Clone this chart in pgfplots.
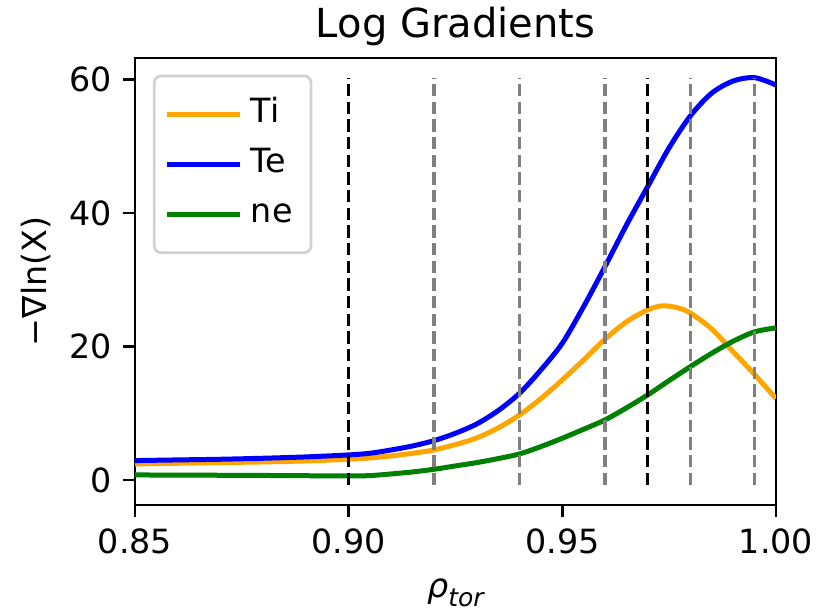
\documentclass[border=0pt]{standalone}
\usepackage{fontspec}
\setmainfont{DejaVu Sans}
\usepackage{pgfplots}
\pgfplotsset{compat=1.18}
\definecolor{mplorange}{HTML}{FFA500}
\definecolor{mplblue}{HTML}{0000FF}
\definecolor{mplgreen}{HTML}{008000}
\definecolor{mplgray}{HTML}{808080}
\begin{document}
\begin{tikzpicture}
\begin{axis}[
  name=ax,
  scale only axis,
  width=192.3pt, height=134.1pt,
  xmin=0.85, xmax=1.00,
  ymin=-3.75, ymax=63.25,
  xtick={0.85,0.90,0.95,1.00},
  ytick={0,20,40,60},
  xticklabel style={/pgf/number format/.cd,fixed,fixed zerofill,precision=2},
  scaled x ticks=false,
  /pgf/number format/assume math mode=true,
  tick align=outside,
  major tick length=3.5pt,
  tick style={line width=0.8pt, black},
  xtick pos=bottom, ytick pos=left,
  axis line style={line width=0.8pt},
  font=\fontsize{10}{12}\selectfont,
  ticklabel style={font=\fontsize{10}{12}\selectfont},
  title={Log Gradients},
  title style={font=\fontsize{12}{14}\selectfont, at={(axis description cs:0.5,1)}, anchor=base},
  xlabel={{\itshape ρ}\raisebox{-0.45ex}{\fontsize{7.5}{8}\selectfont\itshape tor}},
  xlabel style={at={(axis description cs:0.5,0)}, anchor=base, yshift=-27.9pt},
  ylabel={−∇ln(X)},
  ylabel style={at={([xshift=-29.7pt]axis description cs:0,0.5)}, anchor=center, rotate=0},
  legend style={at={(axis description cs:0,1)}, anchor=north west, xshift=5.4pt, yshift=-5pt,
    draw=black!18, line width=0.8pt, rounded corners=2pt, fill=white,
    font=\fontsize{10}{12}\selectfont,
    inner xsep=3pt, inner ysep=4pt,
    nodes={inner sep=2.5pt, text height=7.5pt, text depth=2.5pt},
    row sep=0pt},
  legend cell align=left,
  legend image code/.code={\draw[#1] (0pt,0pt) -- (22pt,0pt);},
]
\addplot[mplorange, line width=1.5pt, smooth] coordinates {
(0.85,2.4) (0.86,2.5) (0.87,2.6) (0.88,2.7) (0.89,2.85) (0.90,3.1) (0.905,3.3) (0.91,3.6) (0.915,4.0) (0.92,4.5) (0.925,5.3) (0.93,6.3) (0.935,7.8) (0.94,9.75) (0.945,12.2) (0.95,15.0) (0.955,18.0) (0.96,21.1) (0.965,23.7) (0.97,25.5) (0.9735,26.1) (0.977,25.8) (0.98,25.0) (0.985,22.6) (0.99,19.2) (0.995,15.8) (1.00,12.2)
};
\addlegendentry{Ti}
\addplot[mplblue, line width=1.5pt, smooth] coordinates {
(0.85,2.9) (0.86,3.0) (0.87,3.1) (0.88,3.25) (0.89,3.45) (0.90,3.75) (0.905,4.0) (0.91,4.5) (0.915,5.1) (0.92,5.9) (0.925,7.0) (0.93,8.4) (0.935,10.4) (0.94,13.0) (0.945,16.5) (0.95,20.5) (0.955,26.0) (0.96,32.0) (0.965,38.2) (0.97,44.0) (0.975,49.8) (0.98,54.6) (0.985,58.0) (0.99,59.8) (0.995,60.3) (1.00,59.2)
};
\addlegendentry{Te}
\addplot[mplgreen, line width=1.5pt, smooth] coordinates {
(0.85,0.75) (0.86,0.72) (0.87,0.7) (0.88,0.67) (0.89,0.63) (0.90,0.6) (0.905,0.65) (0.91,0.9) (0.915,1.2) (0.92,1.6) (0.925,2.1) (0.93,2.6) (0.935,3.2) (0.94,3.9) (0.945,5.0) (0.95,6.25) (0.955,7.6) (0.96,9.0) (0.965,10.8) (0.97,12.75) (0.975,14.9) (0.98,17.0) (0.985,19.0) (0.99,20.8) (0.995,22.2) (1.00,22.8)
};
\addlegendentry{ne}
\addplot[black, line width=1pt, dash pattern=on 3.7pt off 1.6pt, forget plot] coordinates {(0.90,-0.75) (0.90,60.2)};
\addplot[black, line width=1pt, dash pattern=on 3.7pt off 1.6pt, forget plot] coordinates {(0.97,-0.75) (0.97,60.2)};
\addplot[mplgray, line width=1pt, dash pattern=on 3.7pt off 1.6pt, forget plot] coordinates {(0.92,-0.75) (0.92,60.2)};
\addplot[mplgray, line width=1pt, dash pattern=on 3.7pt off 1.6pt, forget plot] coordinates {(0.94,-0.75) (0.94,60.2)};
\addplot[mplgray, line width=1pt, dash pattern=on 3.7pt off 1.6pt, forget plot] coordinates {(0.96,-0.75) (0.96,60.2)};
\addplot[mplgray, line width=1pt, dash pattern=on 3.7pt off 1.6pt, forget plot] coordinates {(0.98,-0.75) (0.98,60.2)};
\addplot[mplgray, line width=1pt, dash pattern=on 3.7pt off 1.6pt, forget plot] coordinates {(0.995,-0.75) (0.995,60.2)};
\end{axis}
\pgfresetboundingbox
\useasboundingbox ([xshift=-40.5pt,yshift=-32.4pt]ax.south west) rectangle ([xshift=17.1pt,yshift=17.4pt]ax.north east);
\end{tikzpicture}
\end{document}
